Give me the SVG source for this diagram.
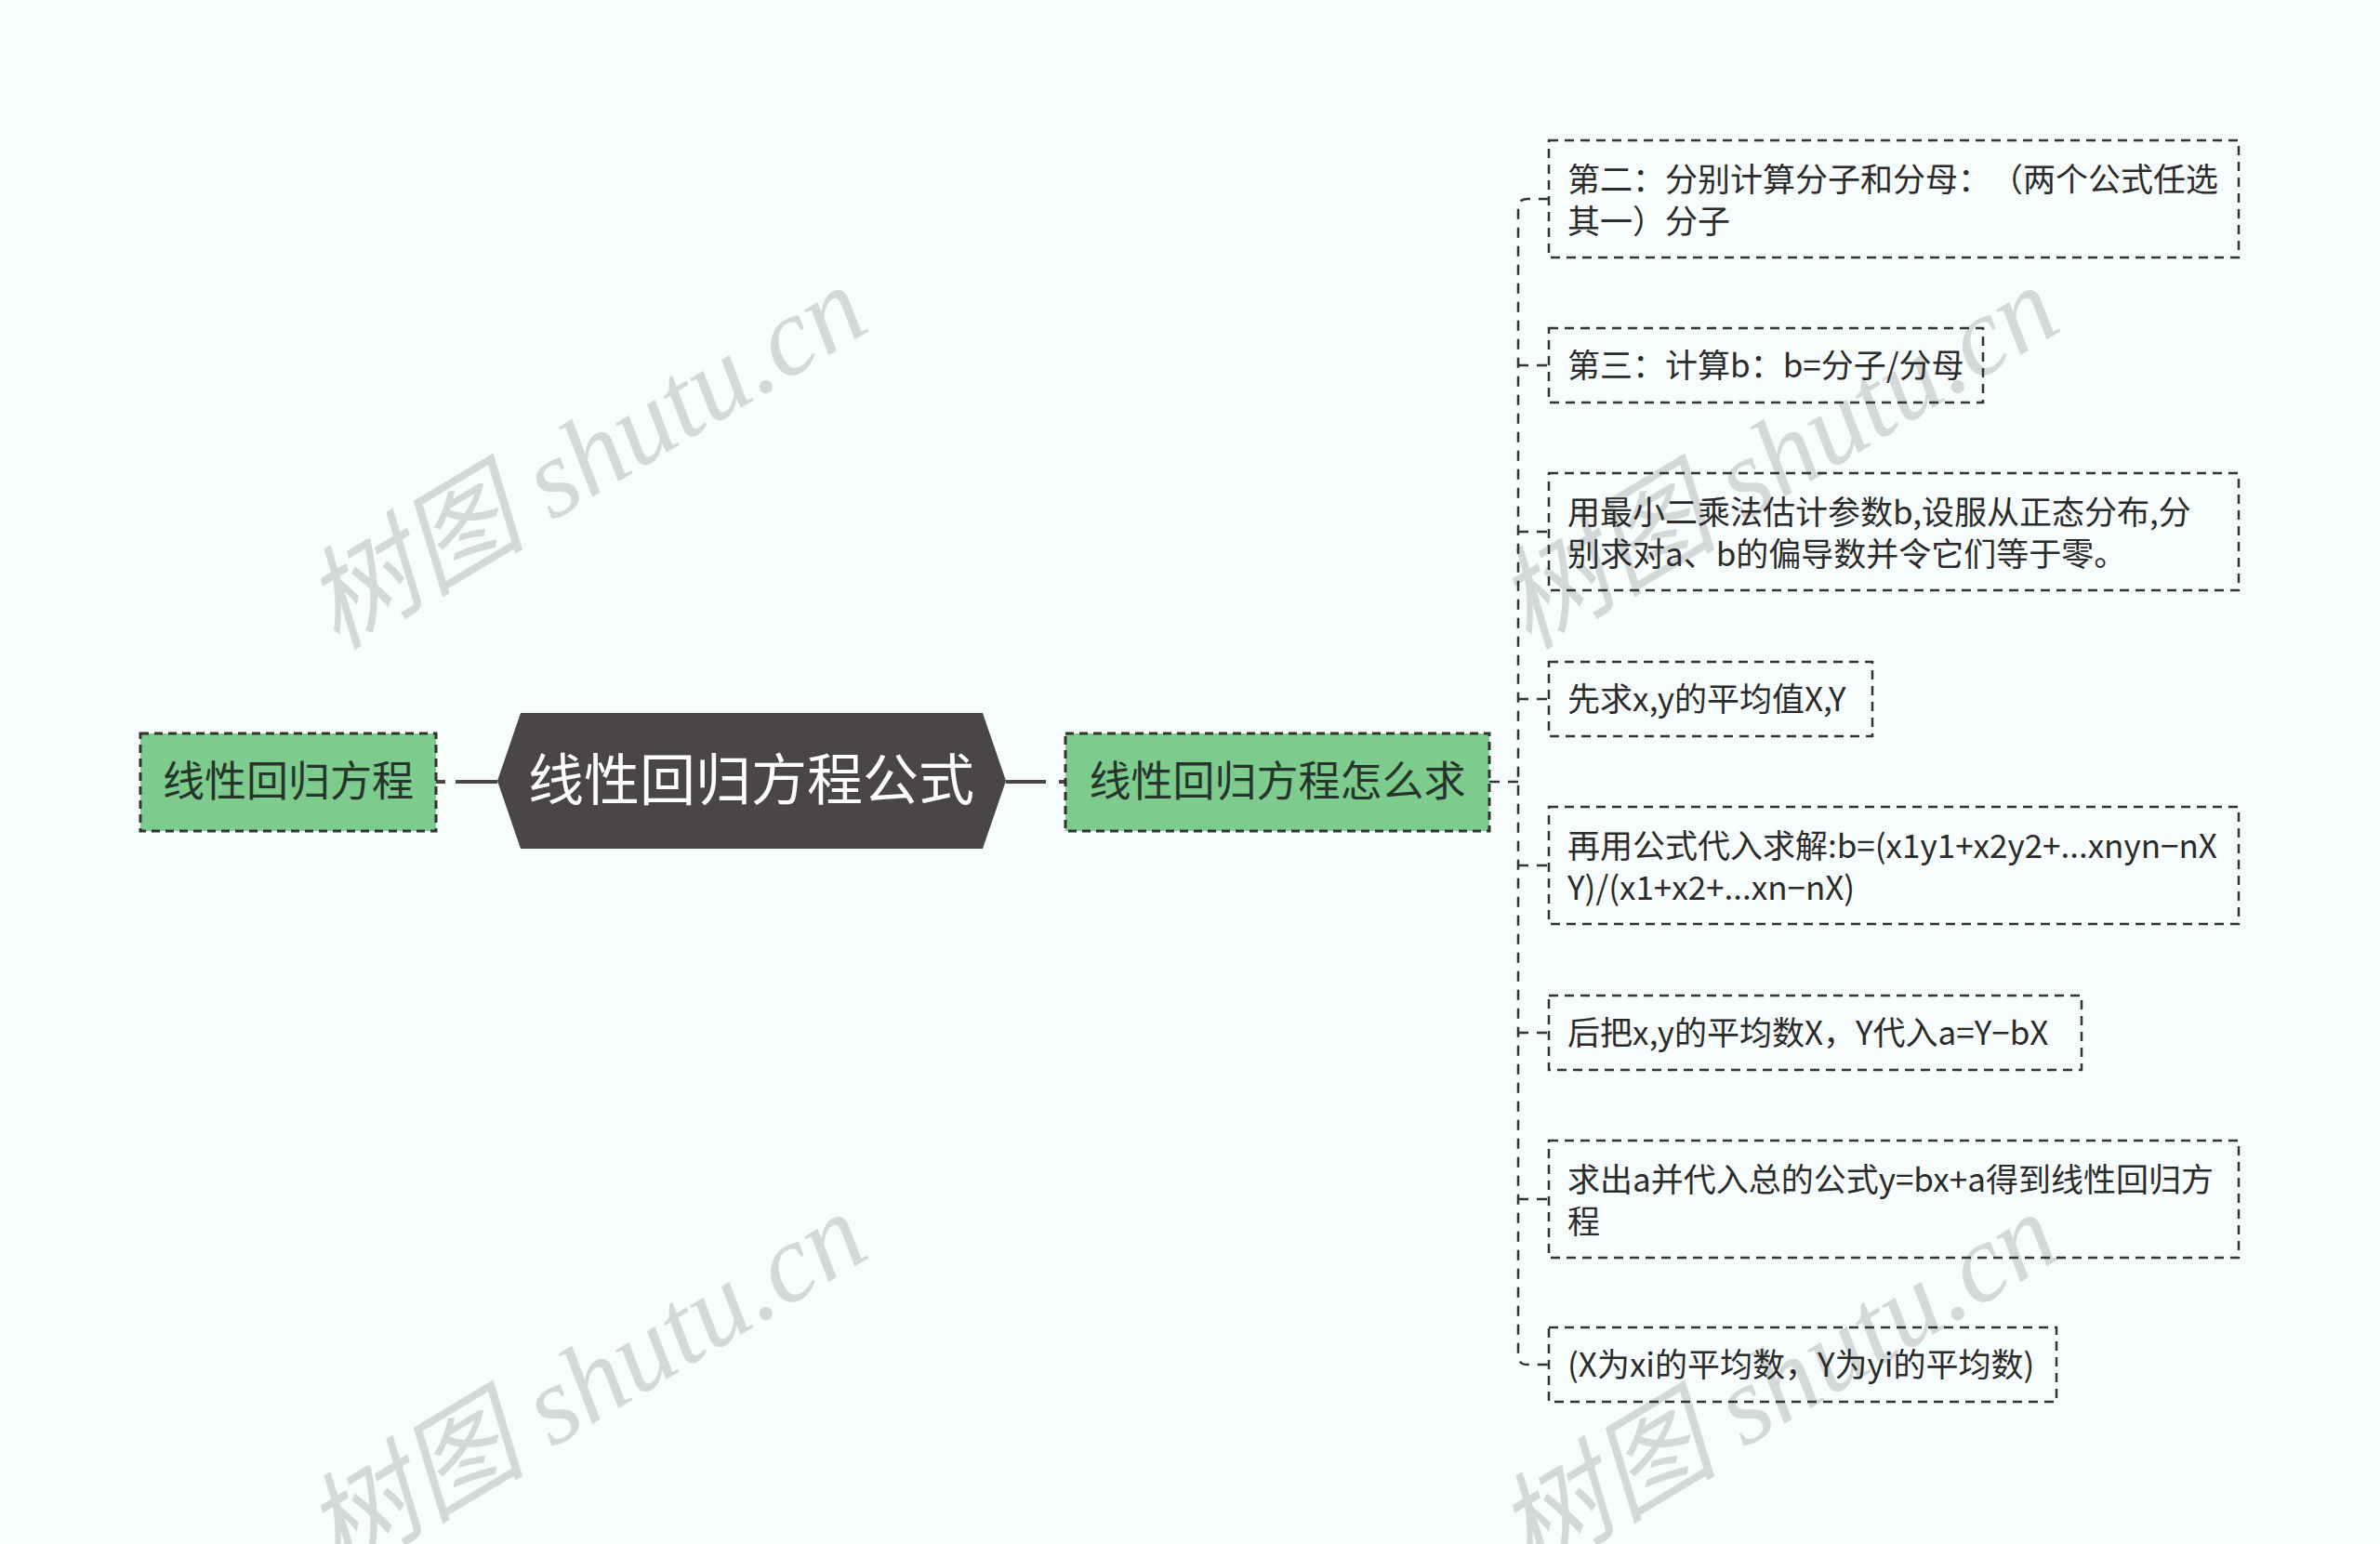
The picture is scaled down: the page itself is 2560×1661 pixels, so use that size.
<svg xmlns="http://www.w3.org/2000/svg" width="2560" height="1661" viewBox="0 0 2560 1661">
<style>
.bg{fill:#f7fcfc}
.wm{fill:#d3d8d8;font-family:"Liberation Serif","Noto Sans CJK SC",serif;font-style:italic;font-size:120px}
.green{fill:#7ecb8e;stroke:#333;stroke-width:3;stroke-dasharray:9 6}
.leaf{fill:none;stroke:#333;stroke-width:2.5;stroke-dasharray:10 7}
.t{font-family:"Noto Sans CJK SC","Noto Sans",sans-serif;text-spacing-trim:space-all}
.gt{font-size:45px;fill:#26352b;text-anchor:middle}
.lt{font-size:35px;fill:#2b2b2b}
.solid{stroke:#4a4646;stroke-width:4;fill:none}
.dash{stroke:#333;stroke-width:2.5;fill:none;stroke-dasharray:11 9}
</style>
<rect class="bg" x="0" y="0" width="2560" height="1661"/>
<g id="watermarks">
<text class="wm" transform="translate(362,700) rotate(-31)">树图 shutu.cn</text>
<text class="wm" transform="translate(1644,700) rotate(-31)">树图 shutu.cn</text>
<text class="wm" transform="translate(362,1697) rotate(-31)">树图 shutu.cn</text>
<text class="wm" transform="translate(1644,1697) rotate(-31)">树图 shutu.cn</text>
</g>
<g id="connectors">
<path class="solid" d="M469 841 H479 M490 841 H535"/>
<path class="solid" d="M1082 841 H1125 M1139 841 H1146"/>
<path class="dash" d="M1602 841 H1633"/>
<path class="dash" d="M1666 214 H1643 Q1633 214 1633 224 V1458 Q1633 1468 1643 1468 H1666"/>
<path class="dash" d="M1633 393 H1666 M1633 572 H1666 M1633 752 H1666 M1633 931 H1666 M1633 1111 H1666 M1633 1290 H1666"/>
</g>
<g id="node-left">
<rect class="green" x="151" y="789" width="318" height="105"/>
<text class="t gt" x="310" y="857">线性回归方程</text>
</g>
<g id="node-center">
<polygon points="535,840 560,767 1057,767 1082,840 1057,913 560,913" fill="#4a4646"/>
<text class="t" x="808" y="861" font-size="60" fill="#ffffff" text-anchor="middle">线性回归方程公式</text>
</g>
<g id="node-right">
<rect class="green" x="1146" y="789" width="456" height="105"/>
<text class="t gt" x="1374" y="857">线性回归方程怎么求</text>
</g>
<g id="leaf1">
<rect class="leaf" x="1666" y="151" width="742" height="126"/>
<text class="t lt" x="1686" y="206">第二：分别计算分子和分母：（两个公式任选</text>
<text class="t lt" x="1686" y="251">其一）分子</text>
</g>
<g id="leaf2">
<rect class="leaf" x="1666" y="353" width="467" height="80"/>
<text class="t lt" x="1686" y="406">第三：计算b：b=分子/分母</text>
</g>
<g id="leaf3">
<rect class="leaf" x="1666" y="509" width="742" height="126"/>
<text class="t lt" x="1686" y="564">用最小二乘法估计参数b,设服从正态分布,分</text>
<text class="t lt" x="1686" y="609">别求对a、b的偏导数并令它们等于零。</text>
</g>
<g id="leaf4">
<rect class="leaf" x="1666" y="712" width="348" height="80"/>
<text class="t lt" x="1686" y="765">先求x,y的平均值X,Y</text>
</g>
<g id="leaf5">
<rect class="leaf" x="1666" y="868" width="742" height="126"/>
<text class="t lt" x="1686" y="923">再用公式代入求解:b=(x1y1+x2y2+...xnyn−nX</text>
<text class="t lt" x="1686" y="968">Y)/(x1+x2+...xn−nX)</text>
</g>
<g id="leaf6">
<rect class="leaf" x="1666" y="1071" width="573" height="80"/>
<text class="t lt" x="1686" y="1124">后把x,y的平均数X，Y代入a=Y−bX</text>
</g>
<g id="leaf7">
<rect class="leaf" x="1666" y="1227" width="742" height="126"/>
<text class="t lt" x="1686" y="1282">求出a并代入总的公式y=bx+a得到线性回归方</text>
<text class="t lt" x="1686" y="1327">程</text>
</g>
<g id="leaf8">
<rect class="leaf" x="1666" y="1428" width="546" height="80"/>
<text class="t lt" x="1686" y="1481">(X为xi的平均数，Y为yi的平均数)</text>
</g>
</svg>
